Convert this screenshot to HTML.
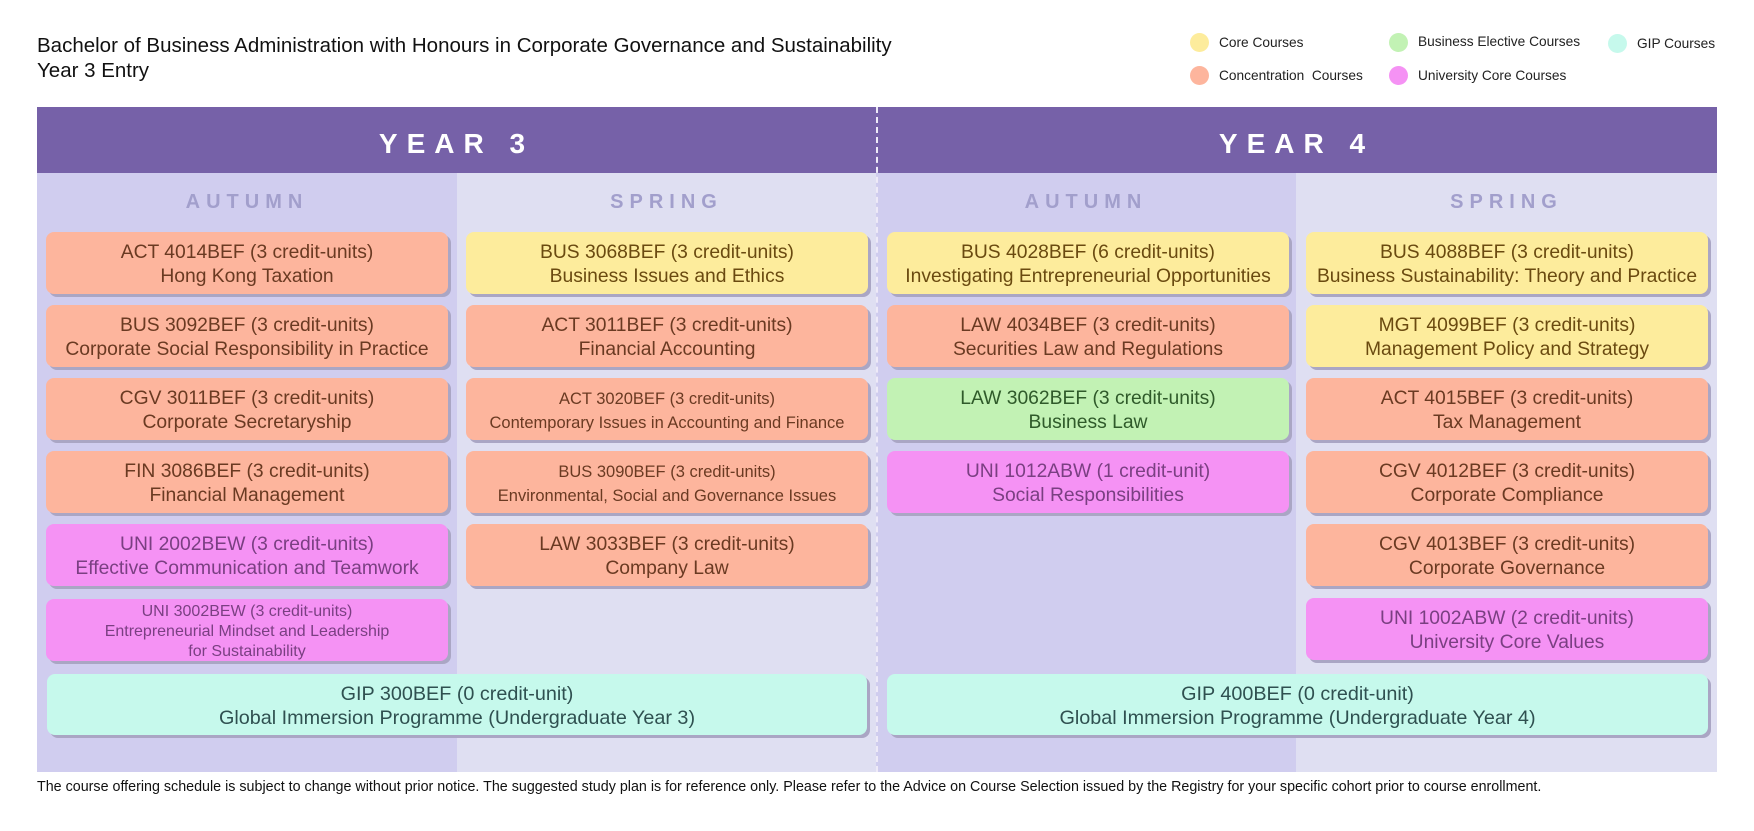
<!DOCTYPE html>
<html><head><meta charset="utf-8"><style>
*{margin:0;padding:0;box-sizing:border-box}
body{width:1754px;height:831px;background:#fff;position:relative;font-family:"Liberation Sans",sans-serif;overflow:hidden}
.a{position:absolute}
.t{left:37px;font-size:20.5px;color:#111}
.lg{font-size:13.7px;color:#222;position:absolute}
.dot{position:absolute;width:19px;height:19px;border-radius:50%}
.card{position:absolute;border-radius:8px;box-shadow:3px 3px 0 #aaa6c4;display:flex;flex-direction:column;justify-content:center;align-items:center;text-align:center;font-size:19.3px;line-height:24px;color:#6a3a22;white-space:nowrap;padding-top:3px}
.s{font-size:16.5px;line-height:24px}
.s3{font-size:16px;line-height:20px}
.con{background:#fdb59d}.core{background:#fdec9c;color:#6a4a10}.ele{background:#c2f2b4;color:#2f5a2a}.uni{background:#f592f4;color:#7a3f82}.gip{background:#c6f9ec;color:#2f5050}
.sea{position:absolute;top:191px;font-size:20px;font-weight:bold;letter-spacing:6px;color:#a29fcc;text-align:center}
.yr{position:absolute;top:128px;font-size:28px;font-weight:bold;letter-spacing:9px;color:#fff;text-align:center}
</style></head><body>
<div class="a t" style="top:34px">Bachelor of Business Administration with Honours in Corporate Governance and Sustainability</div>
<div class="a t" style="top:59px">Year 3 Entry</div>

<div class="dot" style="left:1190px;top:33px;background:#fdec9c"></div><div class="lg" style="left:1219px;top:35px">Core Courses</div>
<div class="dot" style="left:1190px;top:66px;background:#fdb59d"></div><div class="lg" style="left:1219px;top:68px">Concentration &nbsp;Courses</div>
<div class="dot" style="left:1389px;top:33px;background:#c2f2b4"></div><div class="lg" style="left:1418px;top:34px">Business Elective Courses</div>
<div class="dot" style="left:1389px;top:66px;background:#f592f4"></div><div class="lg" style="left:1418px;top:68px">University Core Courses</div>
<div class="dot" style="left:1608px;top:34px;background:#c6f9ec"></div><div class="lg" style="left:1637px;top:36px">GIP Courses</div>

<div class="a" style="left:37px;top:107px;width:1680px;height:66px;background:#7661a8"></div>
<div class="a" style="left:37px;top:173px;width:420px;height:599px;background:#d0cdef"></div>
<div class="a" style="left:457px;top:173px;width:419px;height:599px;background:#dfdff2"></div>
<div class="a" style="left:876px;top:173px;width:420px;height:599px;background:#d0cdef"></div>
<div class="a" style="left:1296px;top:173px;width:421px;height:599px;background:#dfdff2"></div>
<div class="a" style="left:876px;top:107px;height:665px;border-left:2px dashed #eeeaf8"></div>
<div class="yr" style="left:37px;width:839px">YEAR 3</div>
<div class="yr" style="left:876px;width:841px">YEAR 4</div>
<div class="sea" style="left:37px;width:420px">AUTUMN</div>
<div class="sea" style="left:457px;width:419px">SPRING</div>
<div class="sea" style="left:876px;width:420px">AUTUMN</div>
<div class="sea" style="left:1296px;width:421px">SPRING</div>

<!-- Y3 autumn -->
<div class="card con" style="left:46px;top:232px;width:402px;height:62px"><div>ACT 4014BEF (3 credit-units)</div><div>Hong Kong Taxation</div></div>
<div class="card con" style="left:46px;top:305px;width:402px;height:62px"><div>BUS 3092BEF (3 credit-units)</div><div>Corporate Social Responsibility in Practice</div></div>
<div class="card con" style="left:46px;top:378px;width:402px;height:62px"><div>CGV 3011BEF (3 credit-units)</div><div>Corporate Secretaryship</div></div>
<div class="card con" style="left:46px;top:451px;width:402px;height:62px"><div>FIN 3086BEF (3 credit-units)</div><div>Financial Management</div></div>
<div class="card uni" style="left:46px;top:524px;width:402px;height:62px"><div>UNI 2002BEW (3 credit-units)</div><div>Effective Communication and Teamwork</div></div>
<div class="card uni s3" style="left:46px;top:599px;width:402px;height:62px"><div>UNI 3002BEW (3 credit-units)</div><div>Entrepreneurial Mindset and Leadership</div><div>for Sustainability</div></div>
<!-- Y3 spring -->
<div class="card core" style="left:466px;top:232px;width:402px;height:62px"><div>BUS 3068BEF (3 credit-units)</div><div>Business Issues and Ethics</div></div>
<div class="card con" style="left:466px;top:305px;width:402px;height:62px"><div>ACT 3011BEF (3 credit-units)</div><div>Financial Accounting</div></div>
<div class="card con s" style="left:466px;top:378px;width:402px;height:62px"><div>ACT 3020BEF (3 credit-units)</div><div>Contemporary Issues in Accounting and Finance</div></div>
<div class="card con s" style="left:466px;top:451px;width:402px;height:62px"><div>BUS 3090BEF (3 credit-units)</div><div>Environmental, Social and Governance Issues</div></div>
<div class="card con" style="left:466px;top:524px;width:402px;height:62px"><div>LAW 3033BEF (3 credit-units)</div><div>Company Law</div></div>
<!-- Y4 autumn -->
<div class="card core" style="left:887px;top:232px;width:402px;height:62px"><div>BUS 4028BEF (6 credit-units)</div><div>Investigating Entrepreneurial Opportunities</div></div>
<div class="card con" style="left:887px;top:305px;width:402px;height:62px"><div>LAW 4034BEF (3 credit-units)</div><div>Securities Law and Regulations</div></div>
<div class="card ele" style="left:887px;top:378px;width:402px;height:62px"><div>LAW 3062BEF (3 credit-units)</div><div>Business Law</div></div>
<div class="card uni" style="left:887px;top:451px;width:402px;height:62px"><div>UNI 1012ABW (1 credit-unit)</div><div>Social Responsibilities</div></div>
<!-- Y4 spring -->
<div class="card core" style="left:1306px;top:232px;width:402px;height:62px"><div>BUS 4088BEF (3 credit-units)</div><div>Business Sustainability: Theory and Practice</div></div>
<div class="card core" style="left:1306px;top:305px;width:402px;height:62px"><div>MGT 4099BEF (3 credit-units)</div><div>Management Policy and Strategy</div></div>
<div class="card con" style="left:1306px;top:378px;width:402px;height:62px"><div>ACT 4015BEF (3 credit-units)</div><div>Tax Management</div></div>
<div class="card con" style="left:1306px;top:451px;width:402px;height:62px"><div>CGV 4012BEF (3 credit-units)</div><div>Corporate Compliance</div></div>
<div class="card con" style="left:1306px;top:524px;width:402px;height:62px"><div>CGV 4013BEF (3 credit-units)</div><div>Corporate Governance</div></div>
<div class="card uni" style="left:1306px;top:598px;width:402px;height:62px"><div>UNI 1002ABW (2 credit-units)</div><div>University Core Values</div></div>
<!-- GIP -->
<div class="card gip" style="left:47px;top:674px;width:820px;height:61px;font-size:19.8px"><div>GIP 300BEF (0 credit-unit)</div><div>Global Immersion Programme (Undergraduate Year 3)</div></div>
<div class="card gip" style="left:887px;top:674px;width:821px;height:61px;font-size:19.8px"><div>GIP 400BEF (0 credit-unit)</div><div>Global Immersion Programme (Undergraduate Year 4)</div></div>

<div class="a" style="left:37px;top:779px;font-size:14.3px;color:#111;white-space:nowrap">The course offering schedule is subject to change without prior notice. The suggested study plan is for reference only. Please refer to the Advice on Course Selection issued by the Registry for your specific cohort prior to course enrollment.</div>
</body></html>
